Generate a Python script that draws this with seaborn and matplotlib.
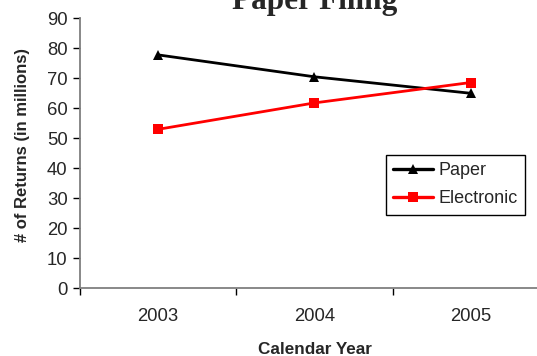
import matplotlib
matplotlib.use("Agg")
import matplotlib.pyplot as plt
import seaborn as sns
import pandas as pd
from matplotlib.ticker import FixedLocator, NullFormatter

# Filing volumes by calendar year (millions of returns)
years = [2003, 2004, 2005]
paper = [77.8, 70.5, 65.0]
electronic = [53.0, 61.8, 68.6]
series_names = ["Paper", "Electronic"]
series_colors = ["#000000", "#ff0000"]
series_markers = ["^", "s"]

df = pd.DataFrame({
    "year": years * 2,
    "returns": paper + electronic,
    "method": [series_names[0]] * len(years) + [series_names[1]] * len(years),
})

sns.set_style("ticks")
plt.rcParams["font.family"] = ["Liberation Sans", "DejaVu Sans"]

W, H = 537, 356
fig = plt.figure(figsize=(W / 100, H / 100), dpi=100)
ax_left, ax_right, ax_top, ax_bottom = 80, 549, 18.3, 288.3
ax_w, ax_h = ax_right - ax_left, ax_bottom - ax_top
ax = fig.add_axes([ax_left / W, 1 - ax_bottom / H, ax_w / W, ax_h / H])

sns.lineplot(data=df, x="year", y="returns", hue="method", style="method",
             palette=dict(zip(series_names, series_colors)),
             markers=dict(zip(series_names, series_markers)),
             dashes=False, linewidth=2.0, markersize=7.5,
             markeredgewidth=0, ax=ax)

ax.set_xlim(2002.5, 2005.5)
ax.set_ylim(0, 90)
ax.set_yticks(range(0, 91, 10))

# Category boundaries carry the tick marks, labels sit at the centres
ax.xaxis.set_major_locator(FixedLocator([2002.5, 2003.5, 2004.5, 2005.5]))
ax.xaxis.set_major_formatter(NullFormatter())
ax.xaxis.set_minor_locator(FixedLocator(years))
ax.set_xticklabels([str(y) for y in years], minor=True)
ax.tick_params(axis="x", which="minor", length=0, labelsize=13.3, pad=14)
ax.tick_params(axis="x", which="major", length=5, width=1, color="black",
               direction="out")
ax.tick_params(axis="y", length=5, width=1, color="black", labelsize=13.3,
               pad=4)

for side in ("top", "right"):
    ax.spines[side].set_visible(False)
for side in ("left", "bottom"):
    ax.spines[side].set_color("#7f7f7f")
    ax.spines[side].set_linewidth(1.3)

ax.set_xlabel("Calendar Year", fontsize=12.3, fontweight="bold")
ax.xaxis.label.set_va("baseline")
ax.xaxis.set_label_coords(0.5, (ax_bottom - 354) / ax_h)

ax.set_ylabel("# of Returns (in millions)", fontsize=12, fontweight="bold")
ax.yaxis.set_label_coords((30 - ax_left) / ax_w, (ax_bottom - 145) / ax_h)

fig.text((ax_left + ax_right) / 2 / W, 1 - 9.5 / H, "Paper Filing",
         ha="center", va="baseline", fontsize=22.5, fontweight="bold",
         family=["Liberation Serif", "DejaVu Serif"])

leg = ax.legend(loc="upper left", bbox_to_anchor=(0.652, 0.494),
                frameon=True, fancybox=False, framealpha=1,
                edgecolor="black", fontsize=13, handlelength=2.2,
                handletextpad=0.3, borderpad=0.4, labelspacing=0.62,
                borderaxespad=0)
leg.get_frame().set_linewidth(1.0)
for line in leg.get_lines():
    line.set_linewidth(2.4)
leg.set_title(None)

fig.savefig("out.png", dpi=100)
